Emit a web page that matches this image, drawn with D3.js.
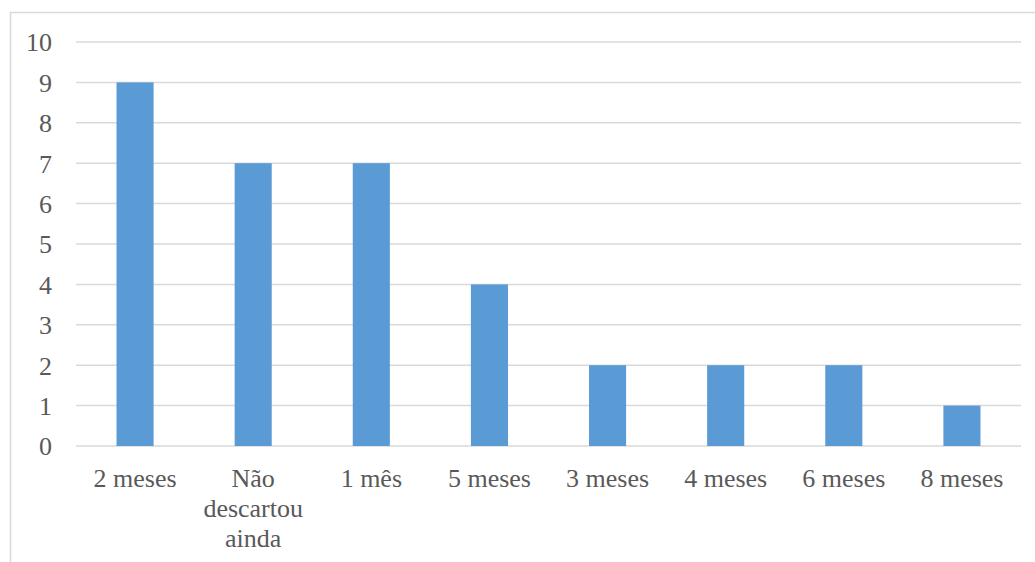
<!DOCTYPE html>
<html>
<head>
<meta charset="utf-8">
<script src="https://cdn.jsdelivr.net/npm/d3@7"></script>
<style>
  html, body { margin: 0; padding: 0; background: #fff; }
  svg { display: block; }
</style>
</head>
<body>
<svg id="chart" width="1035" height="562"></svg>
<script>
// Time until discard, count of respondents per category
const categories = ["2 meses", "Não descartou ainda", "1 mês", "5 meses", "3 meses", "4 meses", "6 meses", "8 meses"];
const counts = [9, 7, 7, 4, 2, 2, 2, 1];
const yTicks = [0, 1, 2, 3, 4, 5, 6, 7, 8, 9, 10];
// Line breaks used for the category labels
const labelLines = {
  "Não descartou ainda": ["Não", "descartou", "ainda"]
};

(function () {
  const svg = d3.select("#chart");
  const font = "'Liberation Serif', 'Times New Roman', serif";
  const textColor = "#595959";

  // Chart frame
  svg.append("rect")
    .attr("x", 10.5).attr("y", 12.5)
    .attr("width", 1040).attr("height", 560)
    .attr("fill", "none").attr("stroke", "#D9D9D9").attr("stroke-width", 1.5);

  const plotLeft = 76, plotRight = 1021, plotTop = 42, plotBottom = 446;

  const x = d3.scaleBand().domain(categories).range([plotLeft, plotRight]).paddingInner(0.686).paddingOuter(0.343);
  const y = d3.scaleLinear().domain([0, 10]).range([plotBottom, plotTop]);

  // Gridlines
  svg.append("g").selectAll("line").data(yTicks).join("line")
    .attr("x1", plotLeft).attr("x2", plotRight)
    .attr("y1", d => y(d)).attr("y2", d => y(d))
    .attr("stroke", "#D9D9D9").attr("stroke-width", 1.5);

  // Y axis labels
  const yAxis = d3.axisLeft(y).tickValues(yTicks).tickSize(0).tickPadding(0).tickFormat(d3.format("d"));
  const gy = svg.append("g").attr("transform", "translate(52,0)").call(yAxis);
  gy.select(".domain").remove();
  gy.selectAll("text")
    .attr("font-family", font).attr("font-size", 26).attr("fill", textColor)
    .attr("dy", "0.34em");

  // Bars
  svg.append("g").selectAll("rect").data(categories).join("rect")
    .attr("x", d => x(d))
    .attr("width", x.bandwidth())
    .attr("y", (d, i) => y(counts[i]))
    .attr("height", (d, i) => y(0) - y(counts[i]))
    .attr("fill", "#5B9BD5");

  // Category labels
  const xAxis = d3.axisBottom(x).tickSize(0).tickPadding(0);
  const gx = svg.append("g").attr("transform", `translate(0,${plotBottom})`).call(xAxis);
  gx.select(".domain").remove();
  gx.selectAll("text").each(function (d) {
    const t = d3.select(this);
    const lines = labelLines[d] || [d];
    t.text(null)
      .attr("y", 0).attr("dy", null)
      .attr("font-family", font).attr("font-size", 26).attr("fill", textColor)
      .attr("text-anchor", "middle");
    lines.forEach((ln, i) => {
      t.append("tspan").attr("x", 0).attr("y", 41 + i * 30).text(ln);
    });
  });
})();
</script>
</body>
</html>
